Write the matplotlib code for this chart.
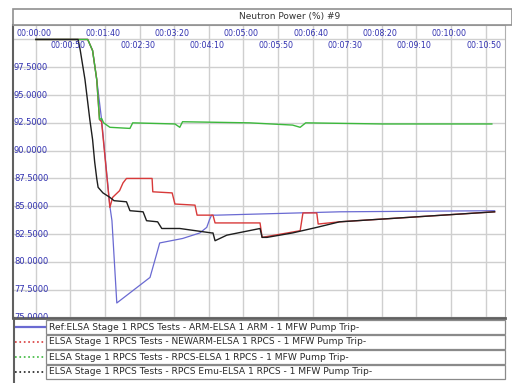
import matplotlib
matplotlib.use("Agg")
import matplotlib.pyplot as plt
from matplotlib.patches import Rectangle
from matplotlib.lines import Line2D
import matplotlib.transforms as mtransforms

# Neutron power traces (time in s, power in %)
t_ref = [0, 75, 82, 88, 95, 107, 110, 117, 165, 175, 179, 212, 237, 247, 251, 254, 262, 439, 663]
v_ref = [100, 100, 99.0, 96.4, 92.8, 85.0, 83.7, 76.3, 78.6, 80.8, 81.7, 82.1, 82.6, 83.1, 83.8, 84.2, 84.2, 84.5, 84.6]

t_new = [0, 75, 82, 88, 92, 95, 107, 111, 121, 126, 131, 168, 169, 197, 201, 230, 233, 256, 259,
         324, 327, 382, 386, 406, 408, 439, 663]
v_new = [100, 100, 99.0, 96.4, 92.8, 92.6, 84.9, 85.8, 86.4, 87.1, 87.5, 87.5, 86.3, 86.2, 85.2, 85.1, 84.2, 84.2, 83.5,
         83.5, 82.2, 82.8, 84.4, 84.4, 83.4, 83.6, 84.5]

t_rpcs = [0, 75, 82, 88, 92, 95, 98, 107, 136, 140, 201, 208, 212, 309, 371, 382, 390, 501, 659]
v_rpcs = [100, 100, 99.0, 96.4, 92.8, 92.9, 92.5, 92.1, 92.0, 92.5, 92.4, 92.1, 92.6, 92.5, 92.3, 92.1, 92.5, 92.4, 92.4]

t_emu = [0, 61, 64, 71, 78, 82, 85, 88, 90, 97, 107, 113, 131, 136, 155, 160, 176, 182, 208, 254, 256, 259, 276,
         324, 327, 334, 371, 406, 439, 663]
v_emu = [100, 100, 99.1, 96.4, 92.8, 91.0, 89.0, 87.5, 86.7, 86.2, 85.8, 85.5, 85.4, 84.6, 84.5, 83.7, 83.6, 83.0, 83.0,
         82.6, 82.6, 81.9, 82.4, 83.0, 82.2, 82.2, 82.6, 83.1, 83.6, 84.5]

x_ticks = list(range(0, 651, 50))
x_labels = ["00:00:00", "00:00:50", "00:01:40", "00:02:30", "00:03:20", "00:04:10", "00:05:00",
            "00:05:50", "00:06:40", "00:07:30", "00:08:20", "00:09:10", "00:10:00", "00:10:50"]
y_ticks = [97.5, 95.0, 92.5, 90.0, 87.5, 85.0, 82.5, 80.0, 77.5, 75.0]

legend_labels = [
    "Ref:ELSA Stage 1 RPCS Tests - ARM-ELSA 1 ARM - 1 MFW Pump Trip-",
    "ELSA Stage 1 RPCS Tests - NEWARM-ELSA 1 RPCS - 1 MFW Pump Trip-",
    "ELSA Stage 1 RPCS Tests - RPCS-ELSA 1 RPCS - 1 MFW Pump Trip-",
    "ELSA Stage 1 RPCS Tests - RPCS Emu-ELSA 1 RPCS - 1 MFW Pump Trip-",
]
colors = ["#6a6ad2", "#d83a3a", "#3cb83c", "#1e1e1e"]
styles = ["-", ":", ":", ":"]

W, H = 512, 383
fig = plt.figure(figsize=(W / 100, H / 100), dpi=100)
fig.patch.set_facecolor("white")


def fx(x):
    return x / W


def fy(y):
    return 1 - y / H


# plot area
ax = fig.add_axes([fx(13), fy(318), fx(505) - fx(13), fy(25) - fy(318)])
ax.set_xlim(-33, 678)
ax.set_ylim(74.95, 101.3)

for t in x_ticks:
    ax.axvline(t, color="#cfcfcf", lw=1.0, zorder=0)
for v in y_ticks + [100.0]:
    ax.axhline(v, color="#cfcfcf", lw=1.0, zorder=0)

ax.plot(t_ref, v_ref, color=colors[0], lw=0.9, zorder=3)
ax.plot(t_new, v_new, color=colors[1], lw=1.0, zorder=4)
ax.plot(t_rpcs, v_rpcs, color=colors[2], lw=1.0, zorder=4)
ax.plot(t_emu, v_emu, color=colors[3], lw=1.0, zorder=5)

ax.set_xticks([])
ax.set_yticks([])
for side in ["top", "right"]:
    ax.spines[side].set_color("#b0b0b0")
    ax.spines[side].set_linewidth(0.8)
ax.spines["left"].set_color("#606060")
ax.spines["left"].set_linewidth(1.5)
ax.spines["bottom"].set_color("#606060")
ax.spines["bottom"].set_linewidth(2.0)

lab_color = "#3030b0"
trans_x = mtransforms.blended_transform_factory(ax.transData, ax.transAxes)
for i, (t, lab) in enumerate(zip(x_ticks, x_labels)):
    ypos = 0.972 if i % 2 == 0 else 0.93
    ax.text(t - 3, ypos, lab, transform=trans_x, ha="center", va="center",
            fontsize=5.7, color=lab_color, zorder=6)

trans_y = mtransforms.blended_transform_factory(ax.transAxes, ax.transData)
for v in y_ticks:
    ax.text(0.002, v, "%.4f" % v, transform=trans_y, ha="left", va="center",
            fontsize=6.0, color=lab_color, zorder=6, clip_on=True)

# title box
fig.patches.append(Rectangle((fx(13), fy(25)), fx(512) - fx(13), fy(9) - fy(25),
                             transform=fig.transFigure, facecolor="white",
                             edgecolor="#909090", lw=1.2))
fig.text(fx(290), fy(17), "Neutron Power (%) #9", ha="center", va="center",
         fontsize=6.5, color="#333333")

# legend rows
row_tops = [320, 335, 350, 365]
for i, top in enumerate(row_tops):
    fig.patches.append(Rectangle((fx(46), fy(top + 14)), fx(505) - fx(46), fy(top) - fy(top + 14),
                                 transform=fig.transFigure, facecolor="white",
                                 edgecolor="#8a8a8a", lw=0.9))
    fig.lines.append(Line2D([fx(15), fx(45)], [fy(top + 7), fy(top + 7)],
                            transform=fig.transFigure, color=colors[i],
                            ls=styles[i], lw=1.6 if i == 0 else 1.2))
    fig.text(fx(49), fy(top + 7), legend_labels[i], ha="left", va="center",
             fontsize=6.6, color="#2a2a2a")
fig.lines.append(Line2D([fx(13.5), fx(13.5)], [fy(318), fy(383)], transform=fig.transFigure,
                        color="#606060", lw=1.5))

fig.savefig("out.png", dpi=100)
